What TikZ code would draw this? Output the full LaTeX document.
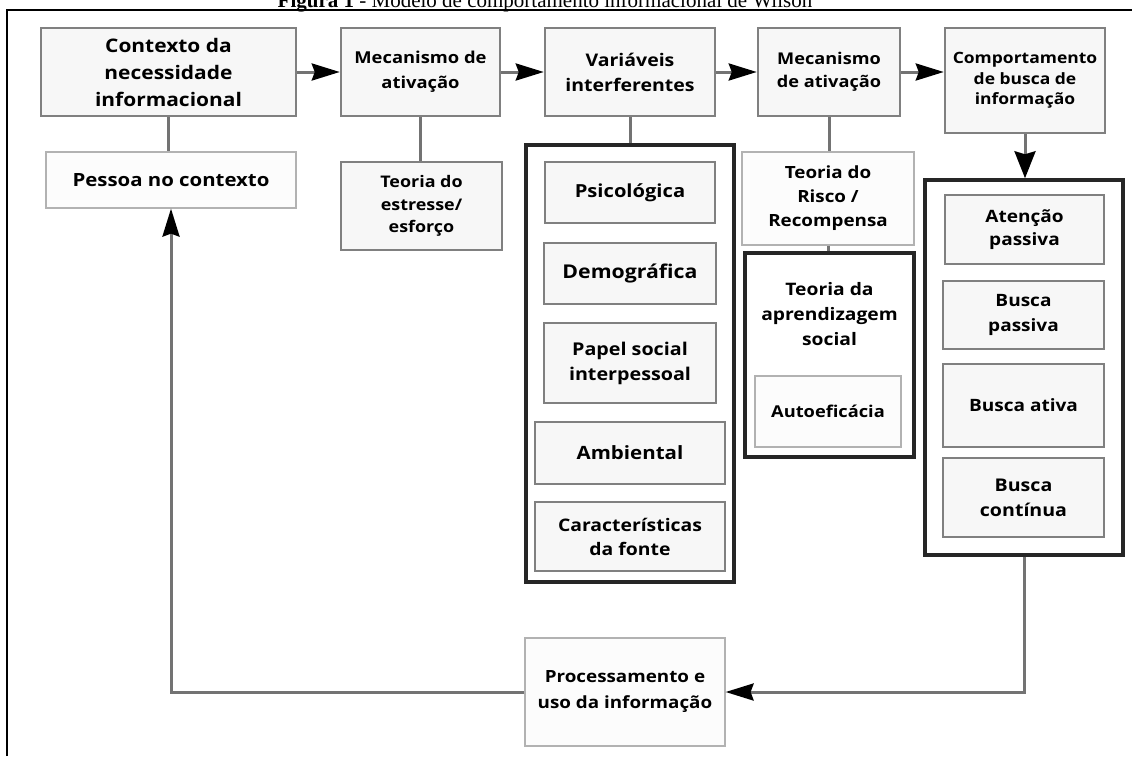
\documentclass[tikz,border=0pt]{standalone}
\usepackage{fontspec}
\setmainfont{Open Sans}[FakeStretch=1.12]
\newfontfamily\titlefont{Liberation Serif}
\usetikzlibrary{arrows.meta}
\def\sz#1#2{\fontsize{#1}{#2}\selectfont\bfseries}

\begin{document}
\begin{tikzpicture}[>={Stealth[length=28pt, width=17pt, inset=3pt, color=black]},
  box/.style={draw=black!50, line width=2.5pt, fill=black!3, align=center, inner sep=0pt},
  thinbox/.style={box, draw=black!30, line width=1.2pt, fill=black!1},
  frame/.style={draw=black!85, line width=3.5pt, inner sep=0pt},
  conn/.style={draw=black!55, line width=3pt}]
\useasboundingbox (0pt, 0pt) rectangle (1132pt, -756pt);
\draw[line width=2pt] (7pt, -756pt) -- (7pt, -10pt) -- (1132pt, -10pt);
\draw (545.0pt, -7.0pt)node[anchor=base, font=\titlefont\fontsize{21}{24}\selectfont](title){\textbf{Figura 1} - Modelo de comportamento informacional de Wilson};
% linha de cima
\draw (168.5pt, -72.0pt)node[box, minimum width=255pt, minimum height=88pt, font=\sz{18.7}{27}](0){Contexto da\\necessidade\\informacional};
\draw (420.5pt, -72.0pt)node[box, minimum width=159pt, minimum height=88pt, font=\sz{16.4}{25}](1){Mecanismo de\\ativação};
\draw (630.0pt, -72.0pt)node[box, minimum width=170pt, minimum height=88pt, font=\sz{17.4}{25}](2){Variáveis\\interferentes};
\draw (829.0pt, -72.0pt)node[box, minimum width=142pt, minimum height=88pt, font=\sz{16.2}{23}](3){Mecanismo\\de ativação};
\draw (1025.0pt, -80.5pt)node[box, minimum width=160pt, minimum height=105pt, font=\sz{15.6}{20.5}](4){Comportamento\\de busca de\\informação};
% segunda linha
\draw (171.0pt, -180.0pt)node[thinbox, minimum width=250pt, minimum height=56pt, font=\sz{18.2}{24}](5){Pessoa no contexto};
\draw (421.5pt, -206.0pt)node[box, minimum width=161pt, minimum height=88pt, font=\sz{16}{22.5}](6){Teoria do\\estresse/\\esforço};
% variaveis
\draw (630.0pt, -363.5pt)node[frame, minimum width=208pt, minimum height=437pt](7){};
\draw (630.0pt, -192.5pt)node[box, minimum width=170pt, minimum height=61pt, font=\sz{18}{24}](8){Psicológica};
\draw (630.0pt, -273.5pt)node[box, minimum width=172pt, minimum height=61pt, font=\sz{19}{24}](9){Demográfica};
\draw (630.0pt, -363.0pt)node[box, minimum width=172pt, minimum height=80pt, font=\sz{17.6}{25}](10){Papel social\\interpessoal};
\draw (630.0pt, -453.0pt)node[box, minimum width=190pt, minimum height=62pt, font=\sz{18.3}{24}](11){Ambiental};
\draw (630.0pt, -536.5pt)node[box, minimum width=190pt, minimum height=69pt, font=\sz{17.3}{24}](12){Características\\da fonte};
% risco e aprendizagem
\draw (828.0pt, -198.5pt)node[thinbox, minimum width=172pt, minimum height=93pt, font=\sz{16.8}{24}](13){Teoria do\\Risco /\\Recompensa};
\draw (829.5pt, -355.0pt)node[frame, minimum width=169pt, minimum height=204pt](14){};
\draw (829.5pt, -314.0pt)node[align=center, font=\sz{17.2}{25}](15){Teoria da\\aprendizagem\\social};
\draw (828.0pt, -411.5pt)node[thinbox, minimum width=146pt, minimum height=71pt, font=\sz{16.3}{24}](16){Autoeficácia};
% busca
\draw (1024.0pt, -367.5pt)node[frame, minimum width=198pt, minimum height=375pt](17){};
\draw (1024.5pt, -229.5pt)node[box, minimum width=159pt, minimum height=69pt, font=\sz{17}{23}](18){Atenção\\passiva};
\draw (1023.5pt, -315.0pt)node[box, minimum width=161pt, minimum height=68pt, font=\sz{17}{25}](19){Busca\\passiva};
\draw (1023.5pt, -405.5pt)node[box, minimum width=161pt, minimum height=83pt, font=\sz{17}{24}](20){Busca ativa};
\draw (1023.5pt, -497.5pt)node[box, minimum width=161pt, minimum height=79pt, font=\sz{17.5}{25}](21){Busca\\contínua};
% processamento
\draw (625.0pt, -692.0pt)node[thinbox, minimum width=200pt, minimum height=108pt, font=\sz{16.8}{26}](22){Processamento e\\uso da informação};
\path[conn, ->] (0) edge (1);
\path[conn, ->] (1) edge (2);
\path[conn, ->] (2) edge (3);
\draw[conn, ->] (3.east) -- (3.east -| 4.west);
\path[conn] (0) edge (0 |- 5.north);
\path[conn] (1) edge (1 |- 6.north);
\path[conn] (2) edge (2 |- 7.north);
\path[conn] (3) edge (3 |- 13.north);
\path[conn] (13) edge (13 |- 14.north);
\draw[conn, ->, >={Stealth[length=27pt, width=21pt, inset=3pt, color=black]}] (4.south) -- (4.south |- 17.north);
\draw[conn, ->] (17.south) |- (22.east);
\draw[conn, ->] (22.west) -| (5.south);
\end{tikzpicture}
\end{document}
